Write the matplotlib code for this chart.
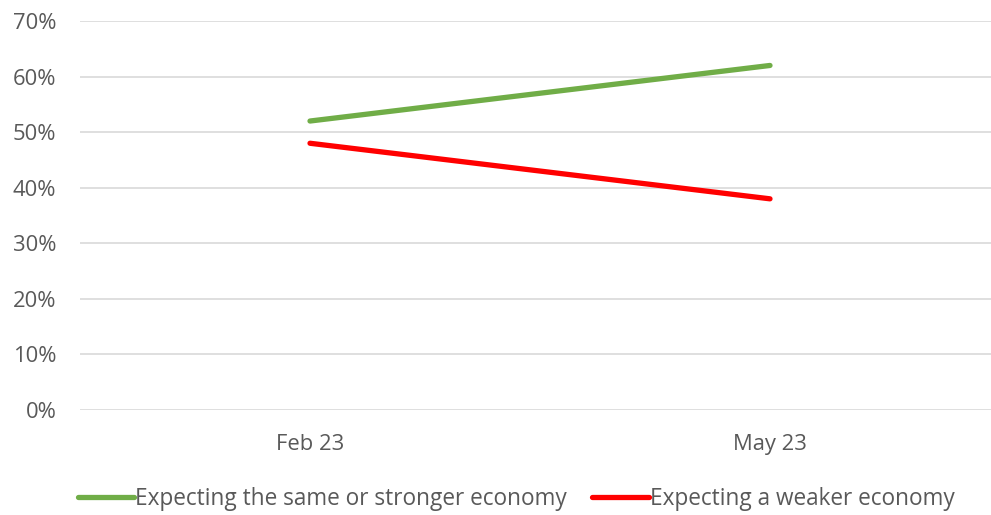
import matplotlib.pyplot as plt
from matplotlib.ticker import FuncFormatter

categories = ["Feb 23", "May 23"]
same_or_stronger = [52, 62]
weaker = [48, 38]
series_labels = ["Expecting the same or stronger economy", "Expecting a weaker economy"]
y_ticks = [0, 10, 20, 30, 40, 50, 60, 70]

plt.rcParams["font.family"] = ["Open Sans", "DejaVu Sans"]

fig = plt.figure(figsize=(9.91, 5.15), dpi=100)
fig.patch.set_facecolor("white")
# plot area: x from 80px to 1000px (runs off the right edge), y from 21px to 410px
ax = fig.add_axes([80 / 991, 1 - 410 / 515, 920 / 991, (410 - 21) / 515])

x = [0, 1]
ax.plot(x, same_or_stronger, color="#70AD47", linewidth=3.8, solid_capstyle="round",
        label=series_labels[0], zorder=3)
ax.plot(x, weaker, color="#FF0000", linewidth=3.8, solid_capstyle="round",
        label=series_labels[1], zorder=3)

ax.set_xlim(-0.5, 1.5)
ax.set_ylim(0, 70)
ax.set_yticks(y_ticks)
ax.yaxis.set_major_formatter(FuncFormatter(lambda v, p: f"{v:.0f}%"))
ax.set_xticks(x)
ax.set_xticklabels(categories)
ax.grid(axis="y", color="#D9D9D9", linewidth=1.2)
ax.set_axisbelow(True)
for s in ax.spines.values():
    s.set_visible(False)
ax.tick_params(axis="both", length=0, labelsize=15.8, labelcolor="#595959")
ax.tick_params(axis="y", pad=17)
ax.tick_params(axis="x", pad=17)

leg = fig.legend(loc="center", bbox_to_anchor=(516 / 991, 1 - 499 / 515), ncol=2,
                 frameon=False, fontsize=16.3, handlelength=2.5, handletextpad=0.05,
                 columnspacing=1.1)
for t in leg.get_texts():
    t.set_color("#595959")

fig.savefig("out.png", dpi=100)
